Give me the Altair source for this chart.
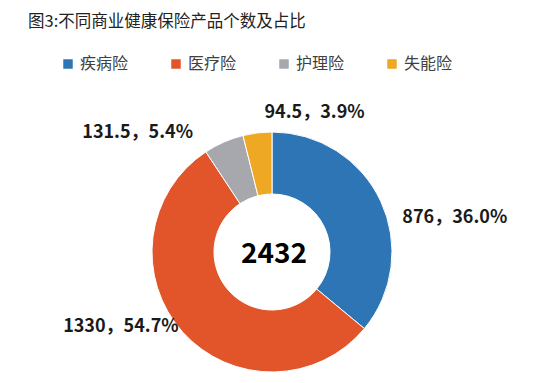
import altair as alt
import pandas as pd

categories = ["疾病险", "医疗险", "护理险", "失能险"]
values = [876, 1330, 131.5, 94.5]
percents = ["36.0%", "54.7%", "5.4%", "3.9%"]
total_label = "2432"
colors = ["#2E75B6", "#E2552A", "#A6A8AE", "#EEA823"]

def fmt(v):
    return format(v, "g")

df = pd.DataFrame({
    "cat": categories,
    "val": values,
    "idx": list(range(len(categories))),
    "label": [f"{fmt(v)}，{p}" for v, p in zip(values, percents)],
})

FONT = "Noto Sans CJK SC"
CX, CY = 264, 221

base = alt.Chart(df).encode(
    theta=alt.Theta("val:Q", stack=True),
    order=alt.Order("idx:Q"),
)

arcs = base.mark_arc(innerRadius=58, outerRadius=120, stroke="white", strokeWidth=1).encode(
    color=alt.Color(
        "cat:N",
        scale=alt.Scale(domain=categories, range=colors),
        legend=alt.Legend(
            title=None,
            orient="none",
            legendX=52,
            legendY=25,
            direction="horizontal",
            symbolType="square",
            symbolSize=90,
            symbolStrokeWidth=0,
            labelFont=FONT,
            labelFontSize=16,
            labelColor="#404040",
            labelOffset=4,
            columnPadding=39,
        ),
    ),
    x=alt.value(CX),
    y=alt.value(CY),
)

offsets = [(38, 34), (-32, -32), (-70, 27), (62, 20)]
label_layers = []
for cat, (dx, dy) in zip(categories, offsets):
    label_layers.append(
        base.mark_text(
            radius=160, font=FONT, fontSize=18, fontWeight="bold", color="#1a1a1a",
            dx=dx, dy=dy, align="center", baseline="middle",
        ).encode(
            text=alt.condition(alt.datum.cat == cat, "label:N", alt.value("")),
            x=alt.value(CX),
            y=alt.value(CY),
        )
    )

center = alt.Chart(pd.DataFrame({"t": [total_label]})).mark_text(
    font=FONT, fontSize=28, fontWeight="bold", color="#000000", baseline="middle"
).encode(text="t:N", x=alt.value(CX + 2), y=alt.value(CY + 3))

chart = alt.layer(arcs, *label_layers, center).properties(
    width=524,
    height=345,
    padding={"top": 5, "left": 0, "right": 0, "bottom": 0},
    title=alt.TitleParams(
        text="图3:不同商业健康保险产品个数及占比",
        anchor="start",
        font=FONT,
        fontSize=16.5,
        fontWeight="normal",
        color="#222222",
        dx=20,
        offset=1,
    ),
).configure_view(stroke=None)

chart.save("out.html", embed_options={"renderer": "svg", "actions": False})
